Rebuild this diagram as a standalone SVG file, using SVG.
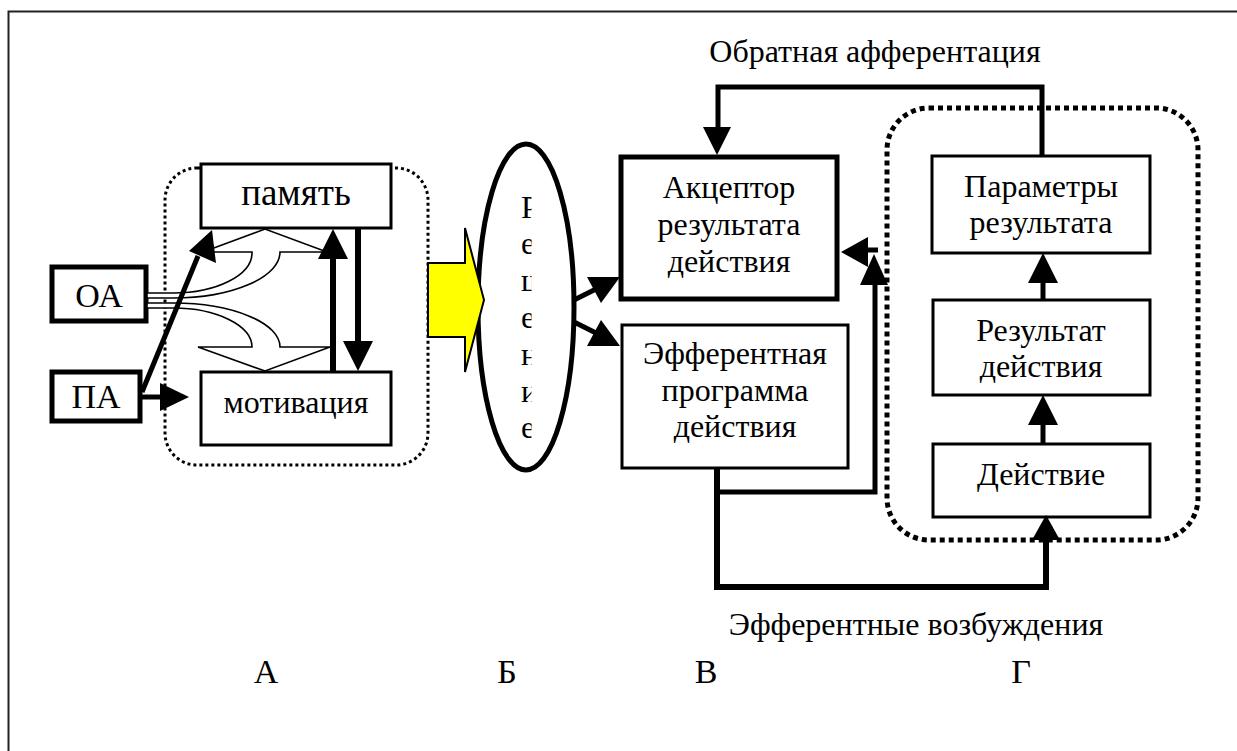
<svg xmlns="http://www.w3.org/2000/svg" width="1237" height="751" viewBox="0 0 1237 751">
  <style>
    .t { font-family: "Liberation Serif", "Times New Roman", serif; font-size: 32px; fill: #000; text-anchor: middle; }
    .big { font-size: 37px; }
    .mid { font-size: 34px; }
    .v { text-anchor: start; }
    .box { fill: #fff; stroke: #000; stroke-width: 3; }
    .boxb { fill: #fff; stroke: #000; stroke-width: 5; }
    .ln { fill: none; stroke: #000; stroke-width: 5; stroke-linejoin: miter; }
    .ln6 { fill: none; stroke: #000; stroke-width: 6; }
    .head { fill: #000; stroke: none; }
    .hollow { fill: #fff; stroke: #000; stroke-width: 1.6; stroke-linejoin: miter; }
  </style>
  <defs>
    <clipPath id="decClip">
      <rect x="505" y="190" width="26.5" height="270"/>
    </clipPath>
  </defs>

  <!-- frame -->
  <rect x="0" y="0" width="1237" height="751" fill="#fff"/>
  <rect x="8.5" y="11.5" width="1240" height="760" fill="none" stroke="#222" stroke-width="2"/>

  <!-- group borders -->
  <g id="groupA">
    <rect x="165" y="168" width="263" height="297" rx="32" ry="32" fill="none" stroke="#000" stroke-width="3" stroke-dasharray="3 3"/>
  </g>
  <g id="groupG">
    <rect x="887" y="108" width="311" height="432" rx="42" ry="42" fill="none" stroke="#000" stroke-width="5" stroke-dasharray="5 4"/>
  </g>

  <!-- nodes -->
  <g id="memory">
    <rect class="box" x="201" y="164" width="190" height="64"/>
    <text class="t big" x="296" y="205">память</text>
  </g>
  <g id="motivation">
    <rect class="box" x="201" y="372" width="190" height="73"/>
    <text class="t" x="296" y="413">мотивация</text>
  </g>
  <g id="oa">
    <rect class="boxb" x="52" y="267" width="94" height="54"/>
    <text class="t mid" x="99" y="307">ОА</text>
  </g>
  <g id="pa">
    <rect class="boxb" x="52" y="372" width="88" height="49"/>
    <text class="t mid" x="96" y="408">ПА</text>
  </g>

  <g id="decision">
    <ellipse cx="526" cy="307" rx="48" ry="163" fill="#fff" stroke="#000" stroke-width="5"/>
    <g clip-path="url(#decClip)">
      <text class="t v" x="521" y="218">Р</text>
      <text class="t v" x="521" y="254">е</text>
      <text class="t v" x="521" y="291">ш</text>
      <text class="t v" x="521" y="328">е</text>
      <text class="t v" x="521" y="365">н</text>
      <text class="t v" x="521" y="402">и</text>
      <text class="t v" x="521" y="438">е</text>
    </g>
  </g>

  <g id="acceptor">
    <rect class="boxb" x="621" y="157" width="216" height="142"/>
    <text class="t" x="729" y="198">Акцептор</text>
    <text class="t" x="729" y="235">результата</text>
    <text class="t" x="729" y="272">действия</text>
  </g>
  <g id="program">
    <rect class="box" x="622" y="325" width="226" height="143"/>
    <text class="t" x="735" y="364">Эфферентная</text>
    <text class="t" x="735" y="401">программа</text>
    <text class="t" x="735" y="437">действия</text>
  </g>

  <g id="params">
    <rect class="box" x="932" y="156" width="218" height="97"/>
    <text class="t" x="1041" y="197">Параметры</text>
    <text class="t" x="1041" y="233">результата</text>
  </g>
  <g id="result">
    <rect class="box" x="933" y="300" width="217" height="95"/>
    <text class="t" x="1041" y="341">Результат</text>
    <text class="t" x="1041" y="377">действия</text>
  </g>
  <g id="action">
    <rect class="box" x="933" y="444" width="217" height="73"/>
    <text class="t" x="1041" y="485">Действие</text>
  </g>

  <!-- connectors -->
  <g id="connectors">
    <!-- ОА splits into memory and motivation -->
    <path class="hollow" d="M147,293 L173,293 A79,40 0 0 0 252,253 L252,252 L203,252 L265,229 L327,252 L280,252 A107,46 0 0 1 173,298 L147,298 Z"/>
    <path class="hollow" d="M147,303 L173,303 A107,44 0 0 1 280,347 L330,347 L265,371 L198,347 L252,347 A79,39 0 0 0 173,308 L147,308 Z"/>

    <!-- ПА to memory -->
    <line class="ln" x1="142" y1="392" x2="198" y2="256"/>
    <polygon class="head" points="212,230 216,263 189,251"/>
    <!-- ПА to motivation -->
    <line class="ln" x1="140" y1="397" x2="165" y2="397"/>
    <polygon class="head" points="189,397 160,383 160,411"/>

    <!-- motivation up to memory -->
    <line class="ln6" x1="333" y1="372" x2="333" y2="255"/>
    <polygon class="head" points="333,229 318,259 348,259"/>
    <!-- memory down to motivation -->
    <line class="ln6" x1="358" y1="228" x2="358" y2="345"/>
    <polygon class="head" points="358,371 343,341 373,341"/>

    <!-- block arrow into decision -->
    <path d="M428,263 L465,263 L465,228 L484,300 L465,372 L465,337 L428,337 Z" fill="#ff0" stroke="#000" stroke-width="2"/>

    <!-- decision to acceptor and program -->
    <line class="ln" x1="574" y1="300" x2="600" y2="287"/>
    <polygon class="head" points="620,277 587,277 601,303"/>
    <line class="ln" x1="574" y1="322" x2="600" y2="335"/>
    <polygon class="head" points="620,346 601,320 587,346"/>

    <!-- reverse afferentation -->
    <polyline class="ln" points="1042,156 1042,87 718,87 718,130"/>
    <polygon class="head" points="717,155 703,127 731,127"/>

    <!-- action chain -->
    <line class="ln" x1="1043" y1="444" x2="1043" y2="420"/>
    <polygon class="head" points="1043,395 1028,425 1058,425"/>
    <line class="ln" x1="1043" y1="300" x2="1043" y2="278"/>
    <polygon class="head" points="1043,253 1028,283 1058,283"/>

    <!-- efferent excitations -->
    <polyline class="ln6" points="717,468 717,587 1046,587 1046,535"/>
    <polygon class="head" points="1046,515 1032,540 1060,540"/>
    <polyline class="ln" points="717,492 875,492 875,280"/>
    <polygon class="head" points="874,254 860,285 888,285"/>
    <line class="ln" x1="878" y1="250" x2="862" y2="250"/>
    <polygon class="head" points="841,252 868,237 868,267"/>
  </g>

  <!-- captions -->
  <g id="labels">
    <text class="t" x="875" y="62">Обратная афферентация</text>
    <text class="t" x="916" y="635">Эфферентные возбуждения</text>
    <text class="t mid" x="266" y="683">А</text>
    <text class="t mid" x="507" y="683">Б</text>
    <text class="t mid" x="706" y="683">В</text>
    <text class="t mid" x="1021" y="683">Г</text>
  </g>
</svg>
